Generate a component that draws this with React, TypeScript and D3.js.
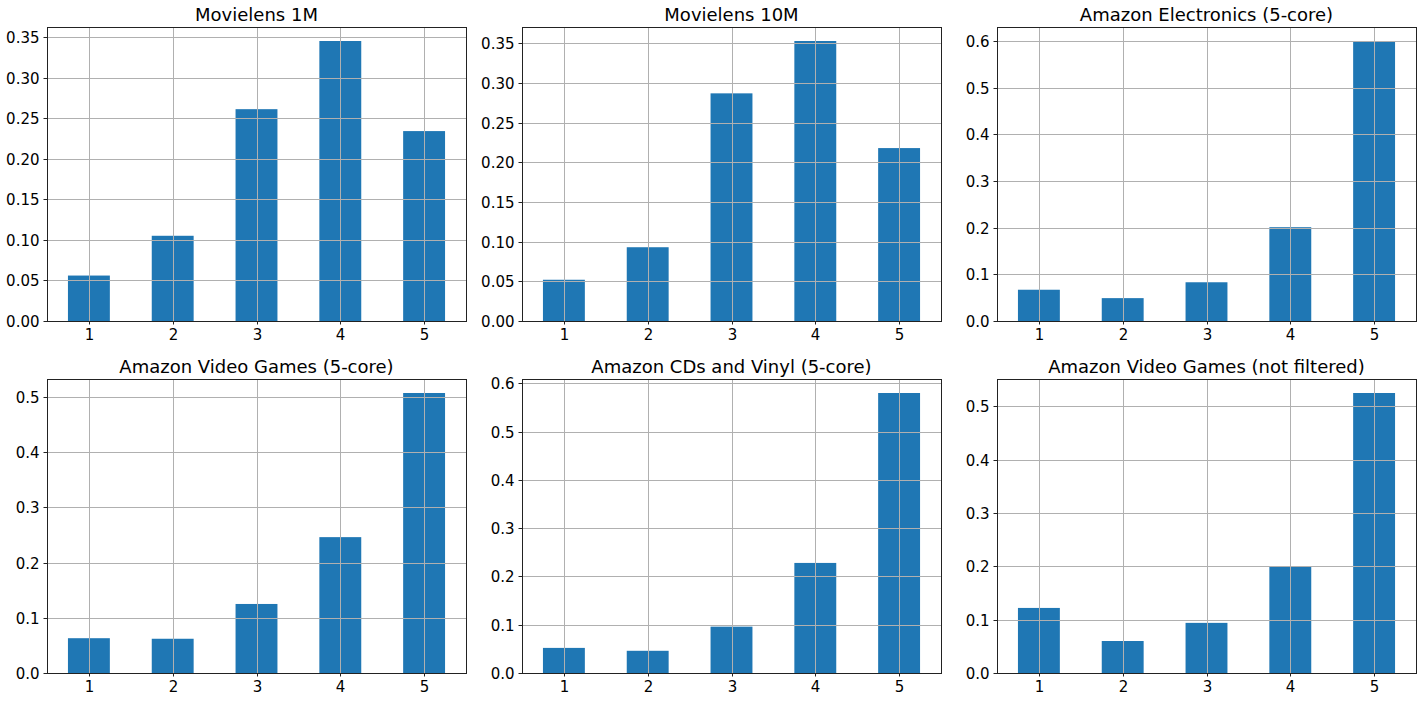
import React from "react";
import * as d3 from "d3";

const ratings = ["1", "2", "3", "4", "5"];

const titles = [
  "Movielens 1M",
  "Movielens 10M",
  "Amazon Electronics (5-core)",
  "Amazon Video Games (5-core)",
  "Amazon CDs and Vinyl (5-core)",
  "Amazon Video Games (not filtered)",
];

const ml1m = [0.056, 0.105, 0.261, 0.345, 0.234];
const ml10m = [0.052, 0.093, 0.287, 0.353, 0.218];
const electronics = [0.067, 0.049, 0.083, 0.201, 0.6];
const videoGames5 = [0.063, 0.062, 0.125, 0.246, 0.507];
const cdsVinyl = [0.052, 0.046, 0.096, 0.228, 0.58];
const videoGamesAll = [0.122, 0.06, 0.094, 0.199, 0.525];

const ticksFine = [0, 0.05, 0.1, 0.15, 0.2, 0.25, 0.3, 0.35];
const ticksCoarse = [0, 0.1, 0.2, 0.3, 0.4, 0.5, 0.6];

const series = [ml1m, ml10m, electronics, videoGames5, cdsVinyl, videoGamesAll];
const tickSets = [ticksFine, ticksFine, ticksCoarse, ticksCoarse, ticksCoarse, ticksCoarse];
const tickFormats = [".2f", ".2f", ".1f", ".1f", ".1f", ".1f"];

const W = 1422;
const H = 702;
const colLeft = [47, 522, 997];
const rowTop = [27, 379];
const PW = 419;
const PH = 294;
const FONT = "DejaVu Sans";
const BAR = "#1f77b4";
const GRID = "#b0b0b0";

function Panel({ idx }: { idx: number }) {
  const values = series[idx];
  const left = colLeft[idx % 3];
  const top = rowTop[Math.floor(idx / 3)];
  const x = d3.scaleBand<string>().domain(ratings).range([0, PW]).paddingInner(0.5).paddingOuter(0.25);
  const maxV = d3.max(values) as number;
  const y = d3.scaleLinear().domain([0, maxV * 1.05]).range([PH, 0]);
  const fmt = d3.format(tickFormats[idx]);
  const ticks = tickSets[idx].filter((t) => t <= maxV * 1.05 + 1e-9);
  const bw = x.bandwidth();
  return (
    <g transform={`translate(${left},${top})`}>
      {values.map((v, i) => (
        <rect key={i} x={x(ratings[i])} y={y(v)} width={bw} height={PH - y(v)} fill={BAR} />
      ))}
      {ticks.map((t) => (
        <line key={"gy" + t} x1={0} x2={PW} y1={Math.round(y(t)) + 0.5} y2={Math.round(y(t)) + 0.5} stroke={GRID} strokeWidth={1} />
      ))}
      {ratings.map((r) => {
        const cx = Math.round((x(r) as number) + bw / 2) + 0.5;
        return <line key={"gx" + r} x1={cx} x2={cx} y1={0} y2={PH} stroke={GRID} strokeWidth={1} />;
      })}
      <rect x={0.5} y={0.5} width={PW} height={PH} fill="none" stroke="#222" strokeWidth={1} />
      {ticks.map((t) => {
        const ty = Math.round(y(t)) + 0.5;
        return (
          <g key={"ty" + t}>
            <line x1={-3.5} x2={0} y1={ty} y2={ty} stroke="#222" strokeWidth={1} />
            <text x={-7.5} y={ty} dy="0.36em" textAnchor="end" fontSize={15} fontFamily={FONT} fill="#000">
              {fmt(t)}
            </text>
          </g>
        );
      })}
      {ratings.map((r) => {
        const cx = Math.round((x(r) as number) + bw / 2) + 0.5;
        return (
          <g key={"tx" + r}>
            <line x1={cx} x2={cx} y1={PH} y2={PH + 3.5} stroke="#222" strokeWidth={1} />
            <text x={cx} y={PH + 19} textAnchor="middle" fontSize={15} fontFamily={FONT} fill="#000">
              {r}
            </text>
          </g>
        );
      })}
      <text x={PW / 2} y={-6} textAnchor="middle" fontSize={18} fontFamily={FONT} fill="#000">
        {titles[idx]}
      </text>
    </g>
  );
}

export default function App() {
  return (
    <svg width={W} height={H} style={{ position: "absolute", left: 0, top: 0, background: "#fff" }}>
      <rect x={0} y={0} width={W} height={H} fill="#fff" />
      {titles.map((_, i) => (
        <Panel key={i} idx={i} />
      ))}
    </svg>
  );
}
